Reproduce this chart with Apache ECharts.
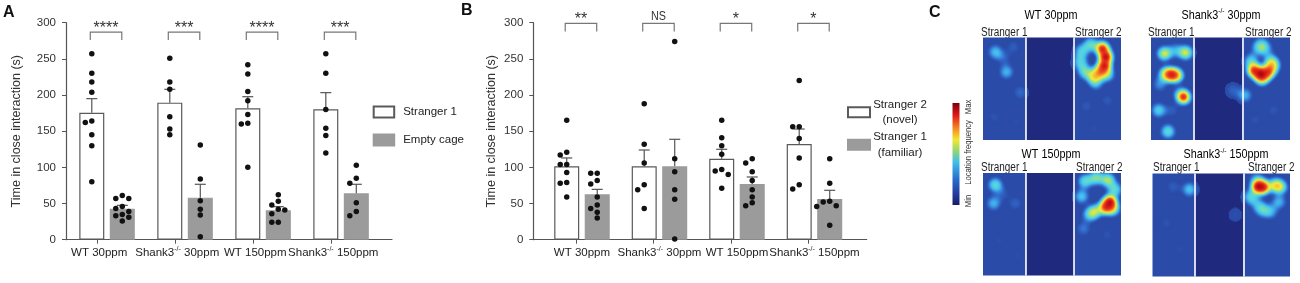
<!DOCTYPE html>
<html><head><meta charset="utf-8">
<script src="https://cdn.jsdelivr.net/npm/echarts@6/dist/echarts.min.js"></script>
<style>html,body{margin:0;padding:0;background:#fff}#c{width:1300px;height:283px}</style>
</head><body><div id="c"></div>
<script>
// ---------------- DATA ----------------
const categories = ['WT 30ppm', 'Shank3-/- 30ppm', 'WT 150ppm', 'Shank3-/- 150ppm'];
const yTicks = [0, 50, 100, 150, 200, 250, 300];

// Panel A : Stranger 1 vs Empty cage
const aStranger1Mean = [175.6, 189.5, 181.6, 180.3];
const aStranger1Sem  = [19.4, 18.4, 16.1, 23.0];
const aEmptyMean     = [42.9, 58.1, 40.6, 64.1];
const aEmptySem      = [4.6, 18.5, 5.1, 12.5];
const aStranger1Points = [
  [257, 230, 218, 204, 164, 162, 145, 130, 80],
  [251, 218, 208, 170, 153, 145],
  [242, 229, 205, 192, 173, 161, 160, 100],
  [257, 230, 180, 154, 144, 120]
];
const aEmptyPoints = [
  [61, 57, 57, 46, 43, 39, 35, 33, 31, 26],
  [131, 84, 54, 42, 34, 4],
  [62, 53, 48, 42, 41, 36, 24, 24],
  [103, 85, 78, 51, 39, 33]
];
const aSig = ['****', '***', '****', '***'];

// Panel B : Stranger 2 (novel) vs Stranger 1 (familiar)
const bNovelMean    = [101.4, 101.4, 112.0, 132.3];
const bNovelSem     = [11.6, 22.6, 13.0, 20.7];
const bFamiliarMean = [62.7, 101.4, 77.0, 56.3];
const bFamiliarSem  = [6.9, 37.4, 9.7, 12.0];
const bNovelPoints = [
  [165, 121, 117, 104, 104, 93, 79, 78, 59],
  [188, 132, 106, 76, 69, 43],
  [165, 141, 130, 118, 97, 95, 90, 71],
  [220, 156, 156, 140, 113, 76, 70]
];
const bFamiliarPoints = [
  [92, 92, 82, 77, 59, 48, 43, 38, 30],
  [274, 112, 94, 69, 56, 1],
  [112, 106, 94, 82, 69, 59, 51, 47],
  [112, 78, 53, 52, 47, 46, 20]
];
const bSig = ['**', 'NS', '*', '*'];

// Panel C : location-frequency hot spots [x (0-100, left->right), y (0-75, top->bottom), intensity 0-1]
const heatTitles = ['WT 30ppm', 'Shank3-/- 30ppm', 'WT 150ppm', 'Shank3-/- 150ppm'];
const heatWT30 = [
  [9, 10.5, 0.4], [17, 25, 0.38], [27, 40, 0.22], [15, 15, 0.2], [22, 7, 0.18], [8, 58, 0.14], [24, 62, 0.12],
  [86.5, 8, 0.95], [89, 14, 1.0], [88, 20.5, 0.95], [84.5, 25, 0.7],
  [78, 5, 0.5], [71.5, 10, 0.45], [70.5, 18, 0.45], [74, 25, 0.5], [80, 28.5, 0.55], [90, 27, 0.5], [82, 33, 0.38],
  [75, 50, 0.16], [90, 46, 0.16], [80, 66, 0.12]
];
const heatShank30 = [
  [9.6, 11.7, 0.65], [25, 11, 0.65], [17.5, 9.5, 0.35],
  [10.5, 26.5, 0.6], [14.5, 27, 0.85], [18.5, 27.5, 0.7], [6.5, 34, 0.3],
  [23.4, 43.3, 0.95], [5.5, 53, 0.45], [15, 53, 0.18], [12.2, 68.4, 0.5], [20, 40, 0.2],
  [77, 8, 0.35], [82.5, 8.5, 0.35], [79.5, 4, 0.3],
  [72, 17, 0.45], [86, 17, 0.45],
  [74, 24, 0.9], [79, 26.5, 1.0], [84.5, 25, 0.85], [88, 20.5, 0.55], [80, 30, 0.6],
  [67.5, 42, 0.38], [59, 38.5, 0.2], [88, 53, 0.15], [75, 60, 0.14]
];
const heatWT150 = [
  [8.9, 8.6, 0.5], [7.7, 22, 0.38], [23.4, 22, 0.2], [14, 15, 0.18], [12, 49, 0.12], [25, 60, 0.12],
  [74, 6, 0.5], [82, 3.5, 0.55], [90.5, 5, 0.6], [95.5, 12, 0.5],
  [71.5, 17, 0.42],
  [92, 21, 1.0], [88.5, 25, 0.85], [81, 28, 0.55], [77, 30.5, 0.4], [94, 26, 0.6],
  [72.8, 40.5, 0.25], [90, 45, 0.14]
];
const heatShank150 = [
  [26.7, 11.6, 0.42], [15, 9.7, 0.18], [10, 36, 0.14], [20, 55, 0.12],
  [76.5, 9.5, 1.0], [80.5, 10, 0.9], [89, 8.5, 0.62], [93, 10, 0.5], [75.7, 3.6, 0.3],
  [71, 17, 0.45], [91.5, 20.6, 0.38], [79.4, 26.6, 0.42], [85.4, 27.8, 0.38], [76, 22, 0.3],
  [60, 30, 0.12]
];

// ---------------- STYLE / LAYOUT ----------------
const FONT = "'Liberation Sans', Arial, sans-serif";
const SQUEEZE = 0.83;               // reference text is horizontally condensed
const AXIS = '#555';
const GRID_TOP = 22.7, GRID_H = 217;
const BAR_W = 25, BAR_GAP = 0.22;
const BAR_OFF = BAR_W * (1 + BAR_GAP) / 2;
const DOT = 5.5, CAP = 5.5;
const ARENA_W = 100, ARENA_H = 75, SPLITS = [31, 66];
const SIDE = '#2b4ba8', MID = '#1f2a7e';

function supText(s) {
  return s.split('-/-').map(p => p ? '{n|' + p + '}' : '').join('{s|-/-}');
}
function richSet(size) {
  const ss = Math.round(size * 0.6);
  return {
    n: {fontSize: size, fontFamily: FONT, color: '#222', lineHeight: size + 3},
    s: {fontSize: ss, fontFamily: FONT, color: '#222', verticalAlign: 'top', lineHeight: ss}
  };
}

// simple beeswarm: horizontal pixel jitter so dots don't overlap
function swarm(values) {
  const ppu = GRID_H / 300, step = DOT + 1;
  const order = values.map((v, i) => i).sort((a, b) => values[b] - values[a]);
  const placed = [], offs = new Array(values.length).fill(0);
  for (const i of order) {
    const y = values[i] * ppu;
    for (let k = 0; k < 12; k++) {
      const c = k === 0 ? 0 : (k % 2 ? -1 : 1) * Math.ceil(k / 2) * step;
      if (placed.every(p => (p.x - c) ** 2 + (p.y - y) ** 2 >= DOT * DOT)) {
        offs[i] = c; placed.push({x: c, y}); break;
      }
    }
  }
  return offs;
}

function barSeries(name, means, gi, fill, border) {
  return {
    type: 'bar', name, xAxisIndex: gi, yAxisIndex: gi,
    data: means.map((m, i) => [i, m]),
    barWidth: BAR_W, barGap: (BAR_GAP * 100) + '%',
    itemStyle: {color: fill, borderColor: border, borderWidth: 1.2},
    emphasis: {disabled: true}, silent: true, z: 2
  };
}
function dotSeries(name, points, gi, sign) {
  const data = [];
  points.forEach((vals, ci) => {
    const offs = swarm(vals);
    vals.forEach((v, k) => data.push({value: [ci, v], symbolOffset: [sign * BAR_OFF + offs[k], 0]}));
  });
  return {
    type: 'scatter', name, xAxisIndex: gi, yAxisIndex: gi, data,
    symbolSize: DOT, itemStyle: {color: '#111', opacity: 1},
    emphasis: {disabled: true}, silent: true, z: 6
  };
}
function errSeries(means, sems, gi, sign) {
  return {
    type: 'custom', xAxisIndex: gi, yAxisIndex: gi, silent: true, z: 5,
    data: means.map((m, i) => [i, m, sems[i]]), encode: {x: 0, y: 1},
    renderItem(params, api) {
      const b = api.coord([api.value(0), api.value(1)]);
      const t = api.coord([api.value(0), api.value(1) + api.value(2)]);
      const cx = b[0] + sign * BAR_OFF;
      const st = {stroke: AXIS, lineWidth: 1.2};
      return {type: 'group', children: [
        {type: 'line', shape: {x1: cx, y1: b[1], x2: cx, y2: t[1]}, style: st},
        {type: 'line', shape: {x1: cx - CAP, y1: t[1], x2: cx + CAP, y2: t[1]}, style: st}
      ]};
    }
  };
}
function sigSeries(labels, gi, level) {
  return {
    type: 'custom', xAxisIndex: gi, yAxisIndex: gi, silent: true, z: 5,
    data: labels.map((t, i) => [i, level]), encode: {x: 0, y: 1},
    renderItem(params, api) {
      const p = api.coord([api.value(0), api.value(1)]);
      const xl = p[0] - BAR_OFF - 1.5, xr = p[0] + BAR_OFF - 0.5, leg = 8;
      const t = labels[params.dataIndex];
      const isNS = t === 'NS';
      return {type: 'group', children: [
        {type: 'polyline', shape: {points: [[xl, p[1] + leg], [xl, p[1]], [xr, p[1]], [xr, p[1] + leg]]},
         style: {stroke: '#777', lineWidth: 1.2, fill: null}},
        {type: 'text', x: (xl + xr) / 2, y: p[1] - (isNS ? 7.5 : 3.5), scaleX: isNS ? SQUEEZE : 1,
         style: {text: t, align: 'center', verticalAlign: 'middle', fontSize: isNS ? 13 : 16,
                 fontFamily: FONT, fill: '#333'}}
      ]};
    }
  };
}
function xAxisDef(gi, min, max, labelShift, tickShift) {
  return {
    type: 'value', gridIndex: gi, min, max, splitLine: {show: false},
    axisLine: {show: true, onZero: false, lineStyle: {color: AXIS, width: 1.2}},
    axisTick: {show: true, length: 4, lineStyle: {color: AXIS}, customValues: categories.map((c, i) => i + tickShift)},
    axisLabel: {customValues: categories.map((c, i) => i + labelShift), hideOverlap: false,
      showMinLabel: true, showMaxLabel: true,
      formatter: v => supText(categories[Math.round(v)]), margin: 6, rich: richSet(11.5)}
  };
}
function yAxisDef(gi, nameGap) {
  return {
    type: 'value', gridIndex: gi, min: yTicks[0], max: yTicks[yTicks.length - 1], interval: yTicks[1] - yTicks[0],
    splitLine: {show: false},
    axisLine: {show: true, onZero: false, lineStyle: {color: AXIS, width: 1.2}},
    axisTick: {show: true, length: 4, lineStyle: {color: AXIS}},
    axisLabel: {fontSize: 11.5, color: '#333', margin: 10, fontFamily: FONT},
    name: 'Time in close interaction (s)', nameLocation: 'middle', nameGap,
    nameTextStyle: {fontSize: 12.5, color: '#333', fontFamily: FONT}
  };
}

// ---------- arena map ----------
const edges = [0, ...SPLITS, ARENA_W];
echarts.registerMap('arena', {
  type: 'FeatureCollection',
  features: ['L', 'M', 'R'].map((n, i) => ({
    type: 'Feature', properties: {name: n},
    geometry: {type: 'Polygon', coordinates: [[[edges[i], 0], [edges[i + 1], 0], [edges[i + 1], ARENA_H], [edges[i], ARENA_H], [edges[i], 0]]]}
  }))
});
const arenaBoxes = [
  {left: 983, top: 37.5, width: 138, height: 102.5},
  {left: 1151, top: 37.5, width: 139, height: 102.5},
  {left: 983, top: 173, width: 138, height: 102.5},
  {left: 1152.5, top: 173.5, width: 137.5, height: 103}
];
const heatSets = [heatWT30, heatShank30, heatWT150, heatShank150];
const geos = arenaBoxes.map(b => Object.assign({
  map: 'arena', roam: false, silent: true, aspectScale: 1,
  boundingCoords: [[0, ARENA_H], [ARENA_W, 0]],
  label: {show: false}, emphasis: {disabled: true}, select: {disabled: true},
  itemStyle: {areaColor: SIDE, borderWidth: 0, borderColor: 'rgba(0,0,0,0)'},
  regions: [{name: 'M', itemStyle: {areaColor: MID}}]
}, b));

const series = [
  barSeries('Stranger 1', aStranger1Mean, 0, '#ffffff', '#5a5a5a'),
  barSeries('Empty cage', aEmptyMean, 0, '#9b9b9b', '#9b9b9b'),
  errSeries(aStranger1Mean, aStranger1Sem, 0, -1),
  errSeries(aEmptyMean, aEmptySem, 0, 1),
  dotSeries('dA1', aStranger1Points, 0, -1),
  dotSeries('dA2', aEmptyPoints, 0, 1),
  sigSeries(aSig, 0, 287),
  barSeries('Stranger 2 (novel)', bNovelMean, 1, '#ffffff', '#5a5a5a'),
  barSeries('Stranger 1 (familiar)', bFamiliarMean, 1, '#9b9b9b', '#9b9b9b'),
  errSeries(bNovelMean, bNovelSem, 1, -1),
  errSeries(bFamiliarMean, bFamiliarSem, 1, 1),
  dotSeries('dB1', bNovelPoints, 1, -1),
  dotSeries('dB2', bFamiliarPoints, 1, 1),
  sigSeries(bSig, 1, 299)
];
const heatIdx = [];
heatSets.forEach((set, gi) => {
  heatIdx.push(series.length);
  series.push({
    type: 'heatmap', coordinateSystem: 'geo', geoIndex: gi, silent: true, z: 3,
    data: set.map(([x, y, v]) => [x, ARENA_H - y, v]),
    pointSize: 7, blurSize: 6, minOpacity: 1, maxOpacity: 1
  });
  series.push({
    type: 'lines', coordinateSystem: 'geo', geoIndex: gi, silent: true, z: 6,
    data: SPLITS.map(s => ({coords: [[s, 0], [s, ARENA_H]]})),
    lineStyle: {color: '#ffffff', width: 1.6, opacity: 1, curveness: 0},
    effect: {show: false}
  });
});

// ---------- graphic text ----------
const g = [];
function txt(x, y, text, size, opts, sx) {
  g.push({type: 'text', x, y, silent: true, scaleX: sx == null ? SQUEEZE : sx,
    style: Object.assign({text, fontSize: size, fontFamily: FONT, fill: '#222', align: 'left', verticalAlign: 'middle'}, opts || {})});
}
txt(3, 12.5, 'A', 16, {fontWeight: 'bold', fill: '#111'}, 1);
txt(461, 10.8, 'B', 16, {fontWeight: 'bold', fill: '#111'}, 1);
txt(929, 12.8, 'C', 16, {fontWeight: 'bold', fill: '#111'}, 1);
const titlePos = [[1051, 15], [1221, 15], [1051, 154.5], [1226, 154.5]];
heatTitles.forEach((t, i) => {
  g.push({type: 'text', x: titlePos[i][0], y: titlePos[i][1], silent: true, scaleX: SQUEEZE,
    style: {text: supText(t), rich: richSet(13), align: 'center', verticalAlign: 'middle'}});
});
const strPos = [[981, 32.5, 1075, 32.5], [1148, 32.5, 1245, 32.5], [981, 167.5, 1076, 167.5], [1153, 167.5, 1248, 167.5]];
strPos.forEach(p => { txt(p[0], p[1], 'Stranger 1', 12); txt(p[2], p[3], 'Stranger 2', 12); });
// colour bar
g.push({type: 'rect', silent: true, shape: {x: 952.5, y: 103, width: 7, height: 102},
  style: {fill: new echarts.graphic.LinearGradient(0, 0, 0, 1, [
    {offset: 0, color: '#7a0008'}, {offset: 0.12, color: '#e01818'}, {offset: 0.25, color: '#f58a22'},
    {offset: 0.36, color: '#f2e830'}, {offset: 0.46, color: '#9bd86a'}, {offset: 0.58, color: '#3fbfe8'},
    {offset: 0.75, color: '#2a6ccc'}, {offset: 0.9, color: '#223a9a'}, {offset: 1, color: '#151e68'}])}});
[['Max', 107], ['Location frequency', 152.5], ['Min', 201]].forEach(([t, y]) => {
  g.push({type: 'text', x: 968.5, y, rotation: Math.PI / 2, silent: true, scaleX: 0.9,
    style: {text: t, fontSize: 8.5, fontFamily: FONT, fill: '#333', align: 'center', verticalAlign: 'middle'}});
});

const option = {
  animation: false,
  backgroundColor: '#ffffff',
  grid: [
    {left: 66, top: GRID_TOP, width: 326, height: GRID_H, outerBoundsMode: 'none'},
    {left: 533.3, top: GRID_TOP, width: 333.4, height: GRID_H, outerBoundsMode: 'none'}
  ],
  xAxis: [xAxisDef(0, -0.526, 3.653, -0.1, -0.12), xAxisDef(1, -0.628, 3.674, 0, -0.08)],
  yAxis: [yAxisDef(0, 43), yAxisDef(1, 35)],
  legend: [
    {data: ['Stranger 1', 'Empty cage'], orient: 'vertical', left: 372.7, top: 105.5, padding: 0,
     itemWidth: 20.5, itemHeight: 11, itemGap: 15, icon: 'rect', selectedMode: false,
     textStyle: {fontSize: 11.5, fontFamily: FONT, color: '#222', padding: [0, 0, 0, 4]}},
    {data: ['Stranger 2 (novel)', 'Stranger 1 (familiar)'], orient: 'vertical', left: 847, top: 98.5, padding: 0,
     itemWidth: 22, itemHeight: 10, itemGap: 5, icon: 'rect', selectedMode: false,
     formatter: n => n.split(' (').map((s, i) => '{t|' + (i ? '(' + s : s) + '}').join('\n'),
     textStyle: {rich: {t: {fontSize: 11.5, fontFamily: FONT, color: '#222', width: 50, align: 'center', lineHeight: 15.5}}}}
  ],
  geo: geos,
  visualMap: {
    type: 'continuous', show: false, min: 0, max: 1, seriesIndex: heatIdx,
    inRange: {color: ['rgba(43,75,168,0)', SIDE, '#2f62c4', '#3a8ee0', '#45c0ee', '#5ad8d8', '#a8e070',
                      '#f0ee3c', '#f8b030', '#f05020', '#d81818', '#8a0010']}
  },
  graphic: {elements: g},
  series
};
const chart = echarts.init(document.getElementById('c'));
chart.setOption(option);
</script></body></html>
